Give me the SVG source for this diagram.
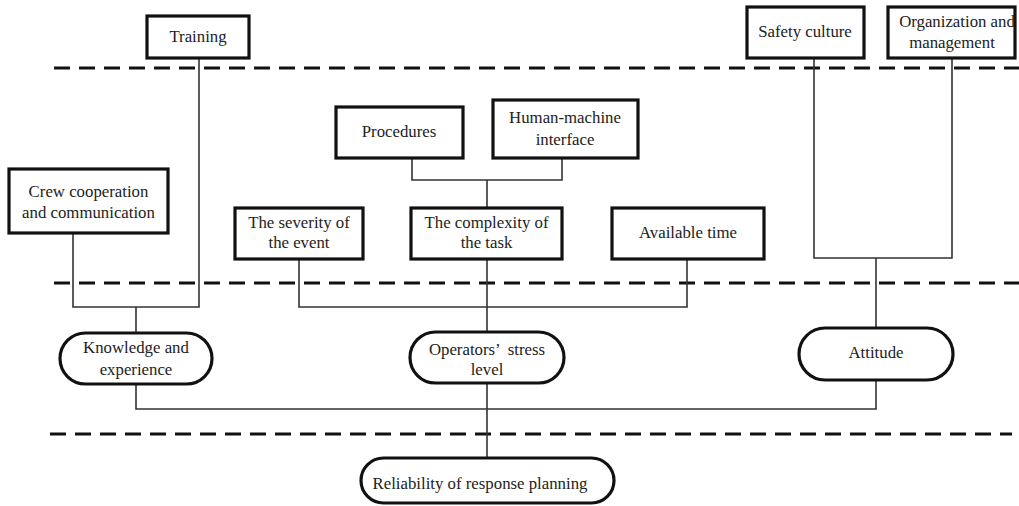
<svg xmlns="http://www.w3.org/2000/svg" width="1019" height="506" viewBox="0 0 1019 506">
<style>
.box{fill:#fff;stroke:#111;stroke-width:3.2}
.pill{fill:#fff;stroke:#111;stroke-width:3.2}
.t{font-family:"Liberation Serif","Times New Roman",serif;font-size:16.8px;fill:#222;text-anchor:middle}
.c{fill:none;stroke:#333;stroke-width:1.6}
.d{fill:none;stroke:#111;stroke-width:3;stroke-dasharray:16 9}
</style>
<rect width="1019" height="506" fill="#fff"/>
<g id="dividers">
<line class="d" x1="54" y1="68" x2="1019" y2="68"/>
<line class="d" x1="54" y1="283" x2="1019" y2="283"/>
<line class="d" x1="50" y1="434" x2="1012" y2="434"/>
</g>
<g id="connectors">
<polyline class="c" points="199,58 199,307 73,307 73,233"/>
<line class="c" x1="136" y1="307" x2="136" y2="333"/>
<polyline class="c" points="412,158 412,180 562,180 562,158"/>
<line class="c" x1="487" y1="180" x2="487" y2="208"/>
<polyline class="c" points="299,259 299,307 687,307 687,259"/>
<line class="c" x1="487" y1="259" x2="487" y2="332"/>
<line class="c" x1="487" y1="383" x2="487" y2="458"/>
<polyline class="c" points="814,58 814,258 952,258 952,58"/>
<line class="c" x1="876" y1="258" x2="876" y2="328"/>
<polyline class="c" points="136,384 136,409 876,409 876,380"/>
</g>
<g id="training"><rect class="box" x="147" y="16" width="102" height="42"/><text class="t" x="198" y="42">Training</text></g>
<g id="safety-culture"><rect class="box" x="747" y="7" width="117" height="51"/><text class="t" x="805" y="37">Safety culture</text></g>
<g id="organization"><rect class="box" x="888" y="7" width="127" height="51"/><text class="t" x="957" y="27">Organization and</text><text class="t" x="952" y="48">management</text></g>
<g id="procedures"><rect class="box" x="336" y="107" width="127" height="51"/><text class="t" x="399" y="137">Procedures</text></g>
<g id="hmi"><rect class="box" x="493" y="100" width="145" height="58"/><text class="t" x="565" y="123">Human-machine</text><text class="t" x="565" y="145">interface</text></g>
<g id="crew"><rect class="box" x="9" y="169" width="159" height="64"/><text class="t" x="88.5" y="197">Crew cooperation</text><text class="t" x="88.5" y="218">and communication</text></g>
<g id="severity"><rect class="box" x="235" y="208" width="128" height="51"/><text class="t" x="299" y="228">The severity of</text><text class="t" x="299" y="248">the event</text></g>
<g id="complexity"><rect class="box" x="411" y="208" width="151" height="51"/><text class="t" x="486.5" y="228">The complexity of</text><text class="t" x="486.5" y="248">the task</text></g>
<g id="available-time"><rect class="box" x="612" y="208" width="152" height="51"/><text class="t" x="688" y="238">Available time</text></g>
<g id="knowledge"><rect class="pill" x="60" y="333" width="152" height="51" rx="25.5"/><text class="t" x="136" y="353">Knowledge and</text><text class="t" x="136" y="375">experience</text></g>
<g id="stress"><rect class="pill" x="410" y="332" width="154" height="51" rx="25.5"/><text class="t" x="487" y="355" xml:space="preserve">Operators’  stress</text><text class="t" x="487" y="375">level</text></g>
<g id="attitude"><rect class="pill" x="799" y="328" width="154" height="52" rx="26"/><text class="t" x="876" y="358">Attitude</text></g>
<g id="reliability"><rect class="pill" x="361" y="458" width="253" height="45" rx="22.5"/><text class="t" x="480" y="489">Reliability of response planning</text></g>
</svg>
